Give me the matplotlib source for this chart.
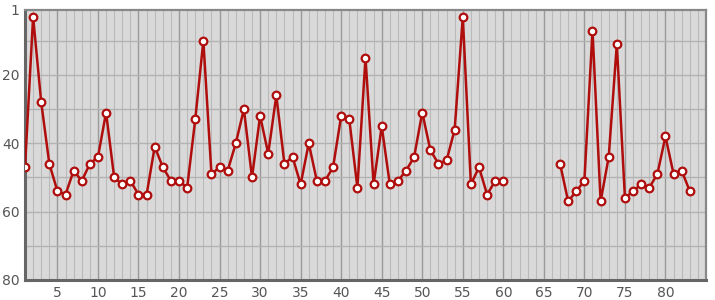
import matplotlib.pyplot as plt
import numpy as np

# rank per position, NaN where there is no data
positions = list(range(1, 84))
ranks = [47, 3, 28, 46, 54, 55, 48, 51, 46, 44,
         31, 50, 52, 51, 55, 55, 41, 47, 51, 51,
         53, 33, 10, 49, 47, 48, 40, 30, 50, 32,
         43, 26, 46, 44, 52, 40, 51, 51, 47, 32,
         33, 53, 15, 52, 35, 52, 51, 48, 44, 31,
         42, 46, 45, 36, 3, 52, 47, 55, 51, 51,
         None, None, None, None, None, None,
         46, 57, 54, 51, 7, 57, 44, 11, 56, 54,
         52, 53, 49, 38, 49, 48, 54]
x_ticks = [5, 10, 15, 20, 25, 30, 35, 40, 45, 50, 55, 60, 65, 70, 75, 80]
y_ticks = [1, 20, 40, 60, 80]

y = np.array([np.nan if r is None else r for r in ranks], dtype=float)

fig = plt.figure(figsize=(7.15, 3.0), dpi=100)
ax = fig.add_axes([25 / 715, 20 / 300, 681 / 715, 270 / 300])
ax.set_facecolor('#d9d9d9')

ax.set_xlim(1, 85)
ax.set_ylim(80, 1)

# grid
for xv in range(2, 85):
    if xv % 5 == 0:
        ax.axvline(xv, color='#9a9a9a', lw=1.0, zorder=1)
    else:
        ax.axvline(xv, color='#bababa', lw=0.8, zorder=1)
for yv in range(10, 80, 10):
    ax.axhline(yv, color='#b2b2b2', lw=1.0, zorder=1)

ax.plot(positions, y, color='#b00d0d', lw=1.8, marker='o', ms=5.5,
        mfc='white', mec='#b00d0d', mew=1.6, zorder=3)

ax.set_xticks(x_ticks)
ax.set_yticks(y_ticks)
ax.tick_params(length=0, labelsize=10, colors='#555555', pad=4)

for side in ['left', 'bottom']:
    ax.spines[side].set_color('#666666')
    ax.spines[side].set_linewidth(2.2)
for side in ['top', 'right']:
    ax.spines[side].set_color('#888888')
    ax.spines[side].set_linewidth(1.6)

fig.savefig('out.png', dpi=100)
